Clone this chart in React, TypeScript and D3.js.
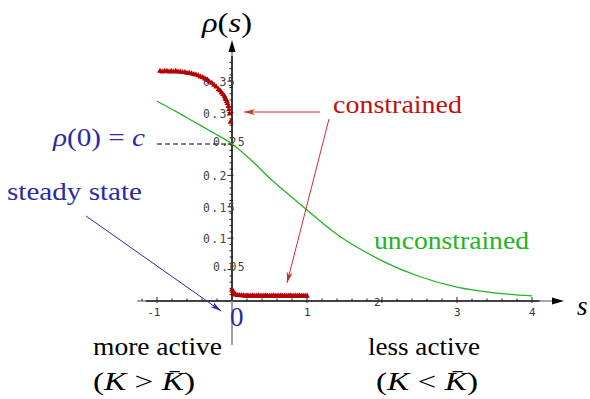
import React from "react";
import * as d3 from "d3";

// ---- data ----
const greenX = [-1, -0.75, -0.5, -0.25, 0, 0.25, 0.5, 0.75, 1, 1.25, 1.5, 1.75, 2, 2.5, 3, 3.5, 4];
const greenY = [0.318, 0.302, 0.285, 0.268, 0.25, 0.225, 0.196, 0.17, 0.145, 0.12, 0.098, 0.08, 0.064, 0.039, 0.022, 0.013, 0.008];

const redLeftX = [-0.96, -0.93, -0.9, -0.87, -0.84, -0.81, -0.78, -0.75, -0.72, -0.69, -0.66, -0.63, -0.6, -0.57, -0.54, -0.51, -0.48, -0.45, -0.42, -0.39, -0.36, -0.33, -0.3, -0.27, -0.24, -0.21, -0.18, -0.16, -0.14, -0.12, -0.1, -0.09, -0.08, -0.07, -0.06, -0.05, -0.04, -0.03, -0.02];
const redLeftY = [0.366, 0.365, 0.366, 0.366, 0.365, 0.366, 0.365, 0.366, 0.365, 0.365, 0.364, 0.364, 0.363, 0.363, 0.362, 0.361, 0.36, 0.359, 0.357, 0.356, 0.354, 0.352, 0.349, 0.347, 0.344, 0.341, 0.337, 0.335, 0.332, 0.329, 0.326, 0.323, 0.321, 0.318, 0.315, 0.31, 0.305, 0.298, 0.285];

const redRightX = [0, 0.01, 0.02, 0.035, 0.05, 0.075, 0.1, 0.125, 0.15, 0.175, 0.2, 0.225, 0.25, 0.275, 0.3, 0.325, 0.35, 0.375, 0.4, 0.425, 0.45, 0.475, 0.5, 0.525, 0.55, 0.575, 0.6, 0.625, 0.65, 0.675, 0.7, 0.725, 0.75, 0.775, 0.8, 0.825, 0.85, 0.875, 0.9, 0.925, 0.95, 0.975, 1.0];
const redRightY = [0.018, 0.016, 0.013, 0.011, 0.01, 0.009, 0.009, 0.0085, 0.0085, 0.008, 0.0085, 0.008, 0.008, 0.0085, 0.008, 0.008, 0.0085, 0.008, 0.008, 0.008, 0.0085, 0.008, 0.008, 0.008, 0.0085, 0.008, 0.008, 0.008, 0.0085, 0.008, 0.008, 0.008, 0.008, 0.0085, 0.008, 0.008, 0.008, 0.008, 0.0085, 0.008, 0.008, 0.008, 0.008];

const xTickValues = [-1, 1, 2, 3, 4];
const xTickLabels = ["-1", "1", "2", "3", "4"];
const yTickValues = [0.05, 0.1, 0.15, 0.2, 0.25, 0.3, 0.35];
const yTickLabels = ["0.05", "0.1", "0.15", "0.2", "0.25", "0.3", "0.35"];

const W = 590;
const H = 399;
const SERIF = '"Liberation Serif", "DejaVu Serif", serif';
const MONO = '"DejaVu Sans Mono", "Liberation Mono", monospace';
const BLUE = "#2a2aa6";
const RED = "#b30000";
const REDTXT = "#c21010";
const GREEN = "#22b522";

function arrowHead(x1: number, y1: number, x2: number, y2: number, L = 11, hw = 3, notch = 8) {
  const a = Math.atan2(y2 - y1, x2 - x1);
  const c = Math.cos(a), s = Math.sin(a);
  const bx = x2 - L * c, by = y2 - L * s;
  const nx = x2 - notch * c, ny = y2 - notch * s;
  const p1 = [bx - hw * s, by + hw * c];
  const p2 = [bx + hw * s, by - hw * c];
  return `M${x2},${y2}L${p1[0]},${p1[1]}L${nx},${ny}L${p2[0]},${p2[1]}Z`;
}

const serif = (extra: React.CSSProperties = {}): React.CSSProperties => ({ fontFamily: SERIF, ...extra });

export default function App() {
  const x = d3.scaleLinear().domain([0, 1]).range([232, 307]);
  const y = d3.scaleLinear().domain([0, 1]).range([301, 301 - 628]);

  const greenLine = d3
    .line<number>()
    .x((_, i) => x(greenX[i]))
    .y((d) => y(d))
    .curve(d3.curveMonotoneX)(greenY);

  const tri = d3.symbol(d3.symbolTriangle, 15)() as string;

  const redPts = [
    ...redLeftX.map((v, i) => [x(v), y(redLeftY[i])]),
    ...redRightX.map((v, i) => [x(v), y(redRightY[i])]),
  ];

  const xMinor: number[] = [];
  for (let k = -6; k <= 20; k++) {
    if (k % 5 !== 0) xMinor.push(k * 0.2);
  }
  const yMinor: number[] = [];
  for (let k = 1; k <= 38; k++) {
    if (k % 5 !== 0) yMinor.push(k * 0.01);
  }

  const x0 = x(0);
  const y0 = y(0);

  const ax1 = [320, 112], ax2 = [244, 112];
  const bx1 = [329, 119], bx2 = [287, 283];
  const cx1 = [86, 216], cx2 = [221, 311];

  return (
    <svg width={W} height={H} style={{ display: "block", position: "absolute", left: 0, top: 0 }}>
      <rect width={W} height={H} fill="#fff" />
      {/* axes */}
      <line x1={137} x2={556} y1={y0} y2={y0} stroke="#8a8a8a" strokeWidth={1.6} />
      <line x1={x(-1.15)} x2={x(4.1)} y1={y0} y2={y0} stroke="#222" strokeWidth={1.6} />
      <line x1={x0} x2={x0} y1={345} y2={48} stroke="#8a8a8a" strokeWidth={1.6} />
      <line x1={x0} x2={x0} y1={y0} y2={y(0.39)} stroke="#222" strokeWidth={1.6} />
      <path d={`M${x0},40L${x0 - 3.5},52L${x0 + 3.5},52Z`} fill="#000" />
      <path d={`M564,${y0}L552,${y0 - 3.5}L552,${y0 + 3.5}Z`} fill="#000" />

      {/* x ticks */}
      {xMinor.map((v) => (
        <line key={"xm" + v} x1={x(v)} x2={x(v)} y1={y0 - 2.5} y2={y0} stroke="#222" strokeWidth={1} />
      ))}
      {xTickValues.map((v) => (
        <line key={"xt" + v} x1={x(v)} x2={x(v)} y1={y0 - 4} y2={y0 + 2} stroke="#222" strokeWidth={1} />
      ))}
      {xTickValues.map((v, i) => (
        <text
          key={"xl" + v}
          x={x(v) + (v === 2 ? -1.5 : 3.5)}
          y={v === 2 ? y0 + 5 : y0 + 15}
          textAnchor="end"
          style={{ fontFamily: MONO, fontSize: 11 }}
          fill="#333"
        >
          {xTickLabels[i]}
        </text>
      ))}

      {/* y ticks */}
      {yMinor.map((v) => (
        <line key={"ym" + v} x1={x0 - 2.5} x2={x0 + 1} y1={y(v)} y2={y(v)} stroke="#222" strokeWidth={1} />
      ))}
      {yTickValues.map((v) => (
        <line key={"yt" + v} x1={x0 - 4.5} x2={x0 + 1.5} y1={y(v)} y2={y(v)} stroke="#222" strokeWidth={1} />
      ))}
      {yTickValues.map((v, i) => {
        const shifted = v === 0.05 || v === 0.25;
        return (
          <text
            key={"yl" + v}
            x={shifted ? 213 : 203}
            y={y(v) + (shifted ? 1.5 : 5)}
            style={{ fontFamily: MONO, fontSize: 11.5, letterSpacing: 1.3 }}
            fill="#444"
          >
            {yTickLabels[i]}
          </text>
        );
      })}

      {/* dashed guide */}
      <line x1={157} x2={x0} y1={y(0.25)} y2={y(0.25)} stroke="#000" strokeWidth={1} strokeDasharray="5,3" />

      {/* green curve */}
      <path d={greenLine || ""} fill="none" stroke={GREEN} strokeWidth={1.3} />

      {/* red markers */}
      {redPts.map((p, i) => (
        <path key={"r" + i} d={tri} transform={`translate(${p[0]},${p[1]})`} fill={RED} />
      ))}

      {/* arrows */}
      <line x1={ax1[0]} y1={ax1[1]} x2={ax2[0]} y2={ax2[1]} stroke="#c83030" strokeWidth={1} />
      <path d={arrowHead(ax1[0], ax1[1], ax2[0], ax2[1])} fill="#c83030" />
      <line x1={bx1[0]} y1={bx1[1]} x2={bx2[0]} y2={bx2[1]} stroke="#c83030" strokeWidth={1} />
      <path d={arrowHead(bx1[0], bx1[1], bx2[0], bx2[1])} fill="#c83030" />
      <line x1={cx1[0]} y1={cx1[1]} x2={cx2[0]} y2={cx2[1]} stroke={BLUE} strokeWidth={1} />
      <path d={arrowHead(cx1[0], cx1[1], cx2[0], cx2[1])} fill={BLUE} />

      {/* texts */}
      <text x={202} y={32} style={serif({ fontSize: 27 })} fill="#000" textLength={50} lengthAdjust="spacingAndGlyphs">
        <tspan style={{ fontStyle: "italic" }}>ρ</tspan>(<tspan style={{ fontStyle: "italic" }}>s</tspan>)
      </text>
      <text x={577} y={315} style={serif({ fontSize: 27, fontStyle: "italic" })} fill="#000">s</text>
      <text x={53} y={146} style={serif({ fontSize: 26 })} fill={BLUE} textLength={92} lengthAdjust="spacingAndGlyphs">
        <tspan style={{ fontStyle: "italic" }}>ρ</tspan>(0) = <tspan style={{ fontStyle: "italic" }}>c</tspan>
      </text>
      <text x={7} y={200} style={serif({ fontSize: 25 })} fill={BLUE} textLength={135} lengthAdjust="spacingAndGlyphs">steady state</text>
      <text x={333} y={113} style={serif({ fontSize: 25 })} fill={REDTXT} textLength={129} lengthAdjust="spacingAndGlyphs">constrained</text>
      <text x={374} y={249} style={serif({ fontSize: 25 })} fill={GREEN} textLength={155} lengthAdjust="spacingAndGlyphs">unconstrained</text>
      <text x={230} y={326} style={serif({ fontSize: 27 })} fill={BLUE}>0</text>
      <text x={93} y={355} style={serif({ fontSize: 25 })} fill="#000" textLength={129} lengthAdjust="spacingAndGlyphs">more active</text>
      <text x={93} y={390} style={serif({ fontSize: 25 })} fill="#000" textLength={102} lengthAdjust="spacingAndGlyphs">
        (<tspan style={{ fontStyle: "italic" }}>K</tspan> &gt; <tspan style={{ fontStyle: "italic" }}>K̄</tspan>)
      </text>
      <text x={368} y={355} style={serif({ fontSize: 25 })} fill="#000" textLength={112} lengthAdjust="spacingAndGlyphs">less active</text>
      <text x={376} y={390} style={serif({ fontSize: 25 })} fill="#000" textLength={102} lengthAdjust="spacingAndGlyphs">
        (<tspan style={{ fontStyle: "italic" }}>K</tspan> &lt; <tspan style={{ fontStyle: "italic" }}>K̄</tspan>)
      </text>
    </svg>
  );
}
